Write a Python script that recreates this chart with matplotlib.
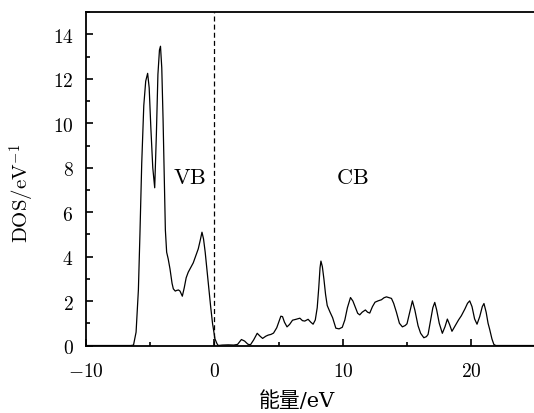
import matplotlib
matplotlib.use("Agg")
import matplotlib.pyplot as plt
from matplotlib.ticker import MultipleLocator, FuncFormatter

plt.rcParams['mathtext.fontset'] = 'cm'

energy = [-10.0, -6.5, -6.3, -6.1, -5.92, -5.8, -5.66, -5.5, -5.35, -5.2, -5.08, -4.95, -4.8,
          -4.65, -4.52, -4.4, -4.28, -4.2, -4.1, -4.0, -3.9, -3.82, -3.72, -3.6, -3.46, -3.3,
          -3.2, -3.05, -2.94, -2.8, -2.68, -2.5, -2.35, -2.2, -2.04, -1.85, -1.65, -1.45, -1.26,
          -1.1, -0.97, -0.85, -0.72, -0.6, -0.45, -0.3, -0.15, 0.04, 0.2, 0.3,
          0.6, 1.07, 1.5, 1.8, 2.1, 2.35, 2.6, 2.8, 3.05, 3.33, 3.55, 3.75, 4.0, 4.19, 4.4, 4.6,
          4.85, 5.0, 5.17, 5.3, 5.45, 5.65, 5.85, 6.08, 6.35, 6.65, 6.85, 7.03, 7.29, 7.5, 7.68,
          7.85, 8.0, 8.12, 8.22, 8.29, 8.4, 8.52, 8.65, 8.78, 9.0, 9.2, 9.45, 9.7, 9.95, 10.15,
          10.35, 10.59, 10.78, 10.95, 11.15, 11.31, 11.5, 11.75, 11.92, 12.09, 12.3, 12.5, 12.74,
          13.0, 13.2, 13.39, 13.6, 13.78, 13.95, 14.17, 14.4, 14.63, 14.85, 14.99, 15.2, 15.41,
          15.6, 15.85, 16.05, 16.3, 16.5, 16.63, 16.85, 17.0, 17.15, 17.3, 17.5, 17.74, 17.95,
          18.13, 18.3, 18.49, 18.7, 19.0, 19.22, 19.5, 19.7, 19.87, 20.05, 20.25, 20.44, 20.65,
          20.85, 20.98, 21.15, 21.3, 21.42, 21.6, 21.75, 21.9, 25.0]
dos = [0, 0, 0.02, 0.6, 2.5, 5.0, 8.2, 10.8, 11.9, 12.25, 11.6, 9.8, 8.0,
       7.1, 9.5, 12.2, 13.3, 13.47, 12.5, 10.2, 7.5, 5.2, 4.2, 3.9, 3.45, 2.8,
       2.55, 2.45, 2.48, 2.5, 2.45, 2.22, 2.6, 3.05, 3.3, 3.5, 3.72, 4.05, 4.35,
       4.75, 5.1, 4.8, 4.2, 3.5, 2.6, 1.78, 1.0, 0.3, 0.08, 0.0,
       0.02, 0.03, 0.02, 0.05, 0.27, 0.2, 0.06, 0.03, 0.25, 0.55, 0.42, 0.32, 0.42, 0.47, 0.5, 0.56,
       0.8, 1.05, 1.32, 1.3, 1.05, 0.84, 0.95, 1.14, 1.18, 1.23, 1.12, 1.1, 1.18, 1.05, 0.96,
       1.15, 1.7, 2.6, 3.5, 3.8, 3.55, 3.0, 2.3, 1.8, 1.5, 1.25, 0.78, 0.75, 0.82, 1.15,
       1.7, 2.16, 2.0, 1.75, 1.45, 1.38, 1.5, 1.6, 1.5, 1.46, 1.75, 1.95, 2.01,
       2.06, 2.15, 2.19, 2.15, 2.12, 1.9, 1.49, 1.0, 0.84, 0.9, 0.98, 1.5, 2.01,
       1.6, 0.89, 0.55, 0.35, 0.4, 0.5, 1.2, 1.7, 1.94, 1.6, 1.0, 0.55, 0.85,
       1.19, 0.95, 0.64, 0.85, 1.15, 1.34, 1.65, 1.9, 2.01, 1.75, 1.2, 0.96, 1.3,
       1.75, 1.89, 1.5, 1.0, 0.74, 0.3, 0.05, 0, 0]

fermi = 0.0
band_labels = ["VB", "CB"]
band_label_pos = [(-1.9, 7.6), (10.7, 7.6)]

fig = plt.figure(figsize=(5.34, 4.14), dpi=100)
ax = fig.add_axes([0.161, 0.163, 0.842, 0.805])
ax.plot(energy, dos, color='black', lw=0.9)
ax.axvline(fermi, color='black', lw=0.9, ls=(0, (4, 2.5)))

for lab, (x, y) in zip(band_labels, band_label_pos):
    ax.text(x, y, r'$\mathrm{%s}$' % lab, fontsize=16, ha='center', va='center')

ax.set_xlim(-10, 25)
ax.set_ylim(0, 15)
ax.xaxis.set_major_locator(MultipleLocator(10))
ax.xaxis.set_minor_locator(MultipleLocator(5))
ax.yaxis.set_major_locator(MultipleLocator(2))
ax.yaxis.set_minor_locator(MultipleLocator(1))
fmt = FuncFormatter(lambda v, p: r'$%d$' % round(v))
ax.xaxis.set_major_formatter(fmt)
ax.yaxis.set_major_formatter(fmt)
ax.tick_params(which='both', direction='in', top=False, right=False, labelsize=14, width=1.2)
ax.tick_params(which='major', length=5)
ax.tick_params(which='minor', length=3)
ax.tick_params(axis='x', pad=11)
ax.tick_params(axis='y', pad=9)
for s in ax.spines.values():
    s.set_linewidth(1.3)

fig.text(22 / 534, 1 - 193 / 414, r'$\mathrm{DOS/eV}^{-1}$', fontsize=15,
         rotation=90, ha='center', va='center')
fig.text(297 / 534, 1 - 401 / 414, '能量/eV', fontsize=15,
         family=['DejaVu Serif', 'Noto Sans CJK SC'], ha='center', va='center')

fig.savefig('out.png', dpi=100)
